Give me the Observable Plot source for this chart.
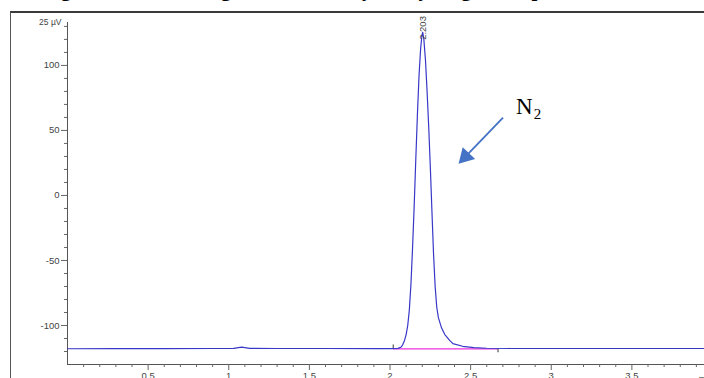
<!DOCTYPE html>
<html><head><meta charset="utf-8">
<script src="https://cdn.jsdelivr.net/npm/d3@7"></script>
<script src="https://cdn.jsdelivr.net/npm/@observablehq/plot@0.6"></script>
<style>
html,body{margin:0;padding:0;background:#fff;overflow:hidden;width:704px;height:378px;position:relative}
#title{position:absolute;left:0;top:0;width:704px;height:11px;overflow:hidden}
#title span{position:absolute;left:42px;top:-23px;line-height:24px;font:bold 21px "Liberation Serif","Times New Roman",serif;white-space:nowrap;color:#000}
#frame{position:absolute;left:10px;top:11px;border-top:2px solid #3a3a3a;border-left:1px solid #555;width:730px;height:400px}
#frame svg{display:block}
</style></head><body>
<div id="title"><span>Figure 5: Chromatogram of N₂ analysed by N₂ gas sample</span></div>
<div id="frame"></div>
<script>
// ---- data ----
const times  = [0.00, 0.30, 0.60, 0.90, 1.03, 1.06, 1.08, 1.10, 1.13, 1.30, 1.60, 1.90, 2.00, 2.05, 2.07, 2.08, 2.09, 2.10, 2.11, 2.12, 2.13, 2.14, 2.15, 2.16, 2.17, 2.18, 2.19, 2.198, 2.203, 2.21, 2.22, 2.23, 2.24, 2.25, 2.26, 2.27, 2.28, 2.29, 2.30, 2.32, 2.34, 2.37, 2.39, 2.45, 2.52, 2.60, 2.75, 3.00, 3.30, 3.60, 3.90, 4.00];
const signal = [-117.9, -117.8, -117.8, -117.7, -117.6, -117.0, -116.6, -117.0, -117.6, -117.7, -117.7, -117.8, -117.8, -117.6, -116.5, -114.5, -111.5, -107, -100, -88, -68, -40, -8, 28, 62, 92, 113, 123, 125.5, 120, 104, 80, 53, 22, -12, -45, -70, -86, -94, -102, -107, -111.5, -114, -116, -117, -117.5, -117.7, -117.7, -117.7, -117.7, -117.7, -117.7];

const yMajorTicks = [-100, -50, 0, 50, 100];
const yMinorTicks = [-120, -110, -90, -80, -70, -60, -40, -30, -20, -10, 10, 20, 30, 40, 60, 70, 80, 90, 110, 120, 130];
const xMajorTicks = [0.5, 1, 1.5, 2, 2.5, 3, 3.5];
const xMinorTicks = [0.1, 0.2, 0.3, 0.4, 0.6, 0.7, 0.8, 0.9, 1.1, 1.2, 1.3, 1.4, 1.6, 1.7, 1.8, 1.9, 2.1, 2.2, 2.3, 2.4, 2.6, 2.7, 2.8, 2.9, 3.1, 3.2, 3.3, 3.4, 3.6, 3.7, 3.8, 3.9];
const xDomain = [0, 4.0];
const yDomain = [-130, 133];
const yUnit = "25 µV";
const xUnit = "min";
const xUnitAt = 3.915;

const peakTimes  = [2.203];
const peakLabels = ["2.203"];
const peakLabelY = [128.8];

const integStart = [2.02];
const integEnd   = [2.67];
const integLevel = [-118];

const arrowFrom = [2.701, 59.8];
const arrowHead = [2.468, 29.8];
const arrowLabel = ["N", "2"];
const arrowLabelPos = [[2.833, 68.5], [2.915, 62.5]];

// ---- build ----
const trace = times.map((t, i) => ({t, v: signal[i]}));
const fmt = d => String(d);

const chart = Plot.plot({
  width: 730,
  height: 380,
  marginLeft: 56,
  marginRight: 29,
  marginTop: 9,
  marginBottom: 29,
  x: {domain: xDomain},
  y: {domain: yDomain},
  style: {fontFamily: "Liberation Sans, Arial, sans-serif", overflow: "visible", background: "transparent"},
  marks: [
    // axis lines
    Plot.ruleX([xDomain[0]], {stroke: "#555", strokeWidth: 1}),
    Plot.ruleY([yDomain[0]], {stroke: "#555", strokeWidth: 1}),
    // y axis
    Plot.axisY(yMajorTicks, {tickSize: 6, tickPadding: 2, fontSize: 9.5, fill: "#444", stroke: "#666", label: null, tickFormat: fmt}),
    Plot.axisY(yMinorTicks, {tickSize: 3, tickFormat: () => "", stroke: "#666", label: null}),
    Plot.text([yUnit], {x: xDomain[0], y: yDomain[1], text: d => d, textAnchor: "end", dx: -6, fontSize: 8.5, fill: "#444"}),
    // x axis
    Plot.axisX(xMajorTicks, {tickSize: 6, tickPadding: 2, fontSize: 9.5, fill: "#444", stroke: "#666", label: null, tickFormat: fmt}),
    Plot.axisX(xMinorTicks, {tickSize: 3, tickFormat: () => "", stroke: "#666", label: null}),
    Plot.text([xUnit], {x: xUnitAt, y: yDomain[0], text: d => d, textAnchor: "start", dy: 14, fontSize: 9.5, fill: "#444"}),
    // integration baseline
    Plot.ruleY(integLevel, {x1: integStart[0], x2: integEnd[0], stroke: "#ee33dd", strokeWidth: 1.3}),
    Plot.ruleX(integStart, {y1: integLevel[0], y2: integLevel[0] + 3, stroke: "#333", strokeWidth: 1}),
    Plot.ruleX(integEnd, {y1: integLevel[0] - 3, y2: integLevel[0], stroke: "#333", strokeWidth: 1}),
    // signal
    Plot.line(trace, {x: "t", y: "v", stroke: "#3838c8", strokeWidth: 1.2, curve: "linear"}),
    // peak label
    Plot.text(peakTimes, {x: d => d, y: (d, i) => peakLabelY[i], text: (d, i) => peakLabels[i], rotate: -90, fontSize: 9.5, fill: "#444"}),
    // annotation arrow
    Plot.link([0], {x1: arrowFrom[0], y1: arrowFrom[1], x2: arrowHead[0], y2: arrowHead[1], stroke: "#4472c4", strokeWidth: 1.8}),
    Plot.dot([0], {x: arrowHead[0], y: arrowHead[1], symbol: "triangle", r: 6.4, rotate: 224, fill: "#4472c4", stroke: "none"}),
    Plot.text([0], {x: arrowLabelPos[0][0], y: arrowLabelPos[0][1], text: () => arrowLabel[0], fontSize: 23, fontFamily: "Liberation Serif, Times New Roman, serif", fill: "#000"}),
    Plot.text([0], {x: arrowLabelPos[1][0], y: arrowLabelPos[1][1], text: () => arrowLabel[1], fontSize: 15, fontFamily: "Liberation Serif, Times New Roman, serif", fill: "#000"})
  ]
});
document.getElementById("frame").appendChild(chart);
</script>
</body></html>
